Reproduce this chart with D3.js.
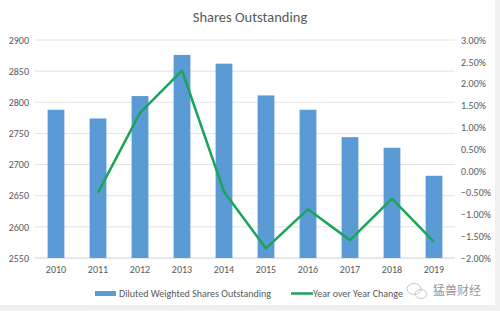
<!DOCTYPE html>
<html><head><meta charset="utf-8">
<script src="https://cdn.jsdelivr.net/npm/d3@7"></script>
<style>html,body{margin:0;padding:0;background:#f0f0f0;}svg{display:block;}</style>
</head><body>
<svg id="chart" width="500" height="311"></svg>
<script>
const years = ["2010","2011","2012","2013","2014","2015","2016","2017","2018","2019"];
const shares = [2788, 2774, 2810, 2876, 2862, 2811, 2788, 2744, 2727, 2682];
const yoy = [null, -0.50, 1.33, 2.30, -0.48, -1.78, -0.88, -1.59, -0.64, -1.63];
const leftTicks = [2550, 2600, 2650, 2700, 2750, 2800, 2850, 2900];
const rightTicks = [-2.0, -1.5, -1.0, -0.5, 0, 0.5, 1.0, 1.5, 2.0, 2.5, 3.0];
const title = "Shares Outstanding";
const legendLabels = ["Diluted Weighted Shares Outstanding", "Year over Year Change"];
const watermark = "猛兽财经";

const svg = d3.select("#chart");
svg.append("rect").attr("x",0).attr("y",0).attr("width",495).attr("height",305).attr("fill","#fff");

const L = 35, R = 455, T = 40, B = 258;
const font = "Calibri, Carlito, 'Liberation Sans', Arial, sans-serif";
const x = d3.scaleBand().domain(years).range([L, R]).paddingInner(0.6).paddingOuter(0.3);
const yL = d3.scaleLinear().domain([2550, 2900]).range([B, T]);
const yR = d3.scaleLinear().domain([-2, 3]).range([B, T]);

// gridlines
svg.append("g").selectAll("line").data(leftTicks).join("line")
  .attr("x1", L).attr("x2", R)
  .attr("y1", d => yL(d)).attr("y2", d => yL(d))
  .attr("stroke", d => d === 2550 ? "#d0d0d0" : "#e4e4e4").attr("stroke-width", 1);

// left axis
const axL = svg.append("g").attr("transform", `translate(${L},0)`)
  .call(d3.axisLeft(yL).tickValues(leftTicks).tickSize(0).tickPadding(6).tickFormat(d3.format("d")));
axL.select(".domain").remove();
axL.selectAll("text").attr("font-family", font).attr("font-size", 10).attr("fill", "#595959");

// right axis
const axR = svg.append("g").attr("transform", `translate(${R},0)`)
  .call(d3.axisRight(yR).tickValues(rightTicks).tickSize(0).tickPadding(6)
    .tickFormat(d => d3.format(".2f")(d) + "%"));
axR.select(".domain").remove();
axR.selectAll("text").attr("font-family", font).attr("font-size", 10).attr("fill", "#595959");

// bottom axis
const axB = svg.append("g").attr("transform", `translate(0,${B})`)
  .call(d3.axisBottom(x).tickSize(0).tickPadding(8));
axB.select(".domain").remove();
axB.selectAll("text").attr("font-family", font).attr("font-size", 10).attr("fill", "#595959");

// bars
svg.append("g").selectAll("rect").data(years).join("rect")
  .attr("x", d => x(d)).attr("width", x.bandwidth())
  .attr("y", (d, i) => yL(shares[i])).attr("height", (d, i) => B - yL(shares[i]))
  .attr("fill", "#5b9bd5");

// line
const line = d3.line().defined(d => d[1] !== null)
  .x(d => x(d[0]) + x.bandwidth() / 2).y(d => yR(d[1]));
svg.append("path").datum(years.map((y, i) => [y, yoy[i]]))
  .attr("d", line).attr("fill", "none").attr("stroke", "#1aa55a").attr("stroke-width", 2.5)
  .attr("stroke-linejoin", "round");

// title
svg.append("text").attr("x", 250).attr("y", 22).attr("text-anchor", "middle")
  .attr("font-family", font).attr("font-size", 14.5).attr("fill", "#595959").text(title);

// legend
const lg = svg.append("g");
lg.append("rect").attr("x", 95).attr("y", 291).attr("width", 21).attr("height", 5).attr("fill", "#5b9bd5");
lg.append("text").attr("x", 119).attr("y", 297).attr("font-family", font).attr("font-size", 10)
  .attr("fill", "#595959").text(legendLabels[0]);
lg.append("line").attr("x1", 291).attr("x2", 313).attr("y1", 293.5).attr("y2", 293.5)
  .attr("stroke", "#1aa55a").attr("stroke-width", 2.5);
lg.append("text").attr("x", 313).attr("y", 297).attr("font-family", font).attr("font-size", 10)
  .attr("fill", "#595959").text(legendLabels[1]);

// watermark
svg.append("text").attr("x", 433).attr("y", 295).attr("font-family", "'Noto Sans CJK SC', sans-serif")
  .attr("font-size", 12).attr("fill", "#999").text(watermark);
const wm = svg.append("g").attr("fill", "none").attr("stroke", "#bbb").attr("stroke-width", 0.8);
wm.append("ellipse").attr("cx", 414).attr("cy", 289).attr("rx", 7).attr("ry", 5.5);
wm.append("ellipse").attr("cx", 421).attr("cy", 294).attr("rx", 6).attr("ry", 4.5);
</script>
</body></html>
